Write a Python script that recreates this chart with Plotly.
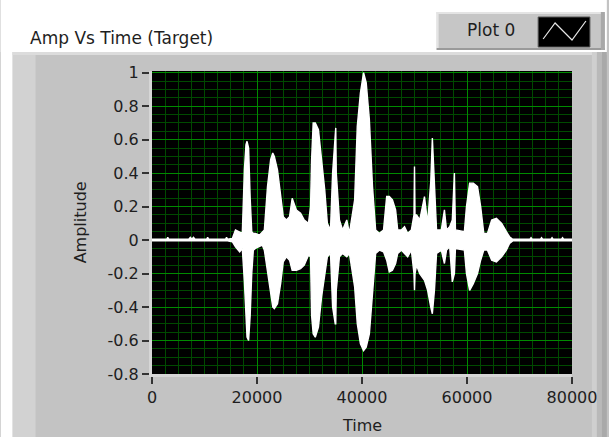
import plotly.graph_objects as go

# ---- data (envelope of the waveform) ----
time = [0, 2800, 3000, 3200, 7000, 7300, 7600, 7900, 8200, 10400, 10600, 10800,
        14000, 14200, 14400, 15300, 15900, 16700, 17200, 17600, 17900, 18100,
        18400, 18700, 19000, 19300, 19700, 20500, 21000, 21400, 22000, 22600,
        23000, 23300, 23900, 24500, 25000, 25600, 26200, 26700, 27500, 28300,
        29000, 29800, 30200, 30400, 30700, 31100, 31700, 32300, 32900, 33400,
        34000, 34400, 34900, 35000, 35100, 35700, 36300, 37100, 37600, 38600,
        39100, 39700, 40300, 40800, 41400, 42000, 42600, 43300, 44100, 44700,
        45200, 45800, 46400, 46800, 47500, 48100, 48700, 49400, 49900, 50000,
        50100, 50400, 51000, 51900, 52500, 53100, 53400, 53800, 54200, 55100,
        55700, 56100, 56700, 57200, 57500, 57600, 57800, 59500, 59900, 60500,
        61200, 62000, 62600, 63200, 63900, 64700, 65600, 66600, 67500, 68100,
        68700, 72000, 72200, 72400, 74000, 74200, 74400, 76000, 76200, 76400,
        78000, 78200, 78400, 80000]
upper = [0.005, 0.005, 0.016, 0.005, 0.005, 0.016, 0.005, 0.016, 0.005, 0.005, 0.016, 0.005,
         0.005, 0.016, 0.005, 0.01, 0.06, 0.05, 0.04, 0.42, 0.57, 0.59,
         0.55, 0.25, 0.05, 0.04, 0.04, 0.03, 0.05, 0.06, 0.32, 0.48,
         0.52, 0.50, 0.42, 0.28, 0.14, 0.12, 0.14, 0.25, 0.18, 0.16,
         0.12, 0.10, 0.20, 0.48, 0.70, 0.70, 0.66, 0.48, 0.30, 0.10,
         0.06, 0.40, 0.67, 0.67, 0.40, 0.12, 0.06, 0.12, 0.04, 0.24,
         0.68, 0.88, 1.00, 0.94, 0.72, 0.32, 0.06, 0.04, 0.06, 0.26,
         0.26, 0.24, 0.18, 0.06, 0.06, 0.08, 0.04, 0.06, 0.15, 0.44,
         0.15, 0.15, 0.12, 0.26, 0.10, 0.35, 0.61, 0.30, 0.06, 0.06,
         0.18, 0.06, 0.08, 0.12, 0.40, 0.40, 0.06, 0.05, 0.20, 0.34,
         0.34, 0.32, 0.20, 0.04, 0.04, 0.12, 0.13, 0.10, 0.05, 0.02,
         0.005, 0.005, 0.014, 0.005, 0.005, 0.014, 0.005, 0.005, 0.014, 0.005,
         0.005, 0.014, 0.005, 0.005]
lower = [-0.005, -0.005, -0.005, -0.005, -0.005, -0.005, -0.005, -0.005, -0.005, -0.005, -0.005, -0.005,
         -0.005, -0.005, -0.005, -0.01, -0.04, -0.07, -0.05, -0.25, -0.45, -0.58,
         -0.60, -0.45, -0.20, -0.06, -0.05, -0.04, -0.03, -0.06, -0.20, -0.34,
         -0.40, -0.41, -0.38, -0.26, -0.13, -0.10, -0.12, -0.18, -0.18, -0.17,
         -0.15, -0.09, -0.10, -0.45, -0.56, -0.58, -0.52, -0.34, -0.20, -0.10,
         -0.08, -0.40, -0.50, -0.50, -0.30, -0.10, -0.08, -0.10, -0.08, -0.28,
         -0.50, -0.62, -0.66, -0.64, -0.56, -0.30, -0.08, -0.06, -0.07, -0.12,
         -0.19, -0.18, -0.14, -0.08, -0.06, -0.08, -0.10, -0.06, -0.20, -0.30,
         -0.20, -0.15, -0.20, -0.24, -0.30, -0.40, -0.44, -0.30, -0.08, -0.06,
         -0.14, -0.06, -0.04, -0.25, -0.20, -0.20, -0.05, -0.06, -0.20, -0.30,
         -0.26, -0.20, -0.12, -0.06, -0.06, -0.12, -0.13, -0.10, -0.06, -0.02,
         -0.005, -0.005, -0.005, -0.005, -0.005, -0.005, -0.005, -0.005, -0.005, -0.005,
         -0.005, -0.005, -0.005, -0.005]

x_ticks = [0, 20000, 40000, 60000, 80000]
x_tick_labels = ["0", "20000", "40000", "60000", "80000"]
y_ticks = [-0.8, -0.6, -0.4, -0.2, 0, 0.2, 0.4, 0.6, 0.8, 1]
y_tick_labels = ["-0.8", "-0.6", "-0.4", "-0.2", "0", "0.2", "0.4", "0.6", "0.8", "1"]

FONT = "DejaVu Sans"
TXT = "#1e1e1e"
W, H = 609, 437
ML, MR, MT, MB = 152, 35, 71, 63
PW, PH = W - ML - MR, H - MT - MB


def px(v):
    return (v - ML) / PW


def py(v):
    return (H - MB - v) / PH


fig = go.Figure()
fig.add_trace(go.Scatter(x=time, y=upper, mode="lines",
                         line=dict(color="white", width=1.4), hoverinfo="skip",
                         showlegend=False))
fig.add_trace(go.Scatter(x=time, y=lower, mode="lines", fill="tonexty",
                         fillcolor="white", line=dict(color="white", width=1.4),
                         hoverinfo="skip", showlegend=False))

shapes = [
    # white top area and left strip
    dict(type="rect", xref="paper", yref="paper", x0=px(0), x1=px(W), y0=py(52), y1=py(0),
         fillcolor="#ffffff", line_width=0, layer="below"),
    dict(type="rect", xref="paper", yref="paper", x0=px(0), x1=px(12), y0=py(H), y1=py(0),
         fillcolor="#ffffff", line_width=0, layer="below"),
    # panel bevels
    dict(type="rect", xref="paper", yref="paper", x0=px(12), x1=px(35), y0=py(H), y1=py(52),
         fillcolor="#d2d2d2", line_width=0, layer="below"),
    dict(type="rect", xref="paper", yref="paper", x0=px(12), x1=px(W), y0=py(55), y1=py(52),
         fillcolor="#dcdcdc", line_width=0, layer="below"),
    dict(type="rect", xref="paper", yref="paper", x0=px(594), x1=px(599), y0=py(H), y1=py(52),
         fillcolor="#cfcfcf", line_width=0, layer="below"),
    dict(type="rect", xref="paper", yref="paper", x0=px(599), x1=px(604), y0=py(H), y1=py(52),
         fillcolor="#b9b9b9", line_width=0, layer="below"),
    dict(type="rect", xref="paper", yref="paper", x0=px(604), x1=px(W), y0=py(H), y1=py(52),
         fillcolor="#a9a9a9", line_width=0, layer="below"),
    # black plot area
    dict(type="rect", xref="x domain", yref="y domain", x0=0, x1=1, y0=0, y1=1,
         fillcolor="black", line_width=0, layer="below"),
    # legend box
    dict(type="rect", xref="paper", yref="paper", x0=px(438), x1=px(607), y0=py(50), y1=py(12),
         fillcolor="#c6c6c6", line_width=0, layer="below"),
    dict(type="line", xref="paper", yref="paper", x0=px(438), x1=px(607), y0=py(13), y1=py(13),
         line=dict(color="#e4e4e4", width=2), layer="below"),
    dict(type="line", xref="paper", yref="paper", x0=px(439), x1=px(439), y0=py(50), y1=py(12),
         line=dict(color="#e4e4e4", width=2), layer="below"),
    dict(type="line", xref="paper", yref="paper", x0=px(438), x1=px(607), y0=py(49), y1=py(49),
         line=dict(color="#9a9a9a", width=2), layer="below"),
    dict(type="line", xref="paper", yref="paper", x0=px(605), x1=px(605), y0=py(50), y1=py(12),
         line=dict(color="#a8a8a8", width=4), layer="below"),
    dict(type="rect", xref="paper", yref="paper", x0=px(540), x1=px(592), y0=py(47), y1=py(17),
         fillcolor="black", line=dict(color="#555555", width=1)),
    dict(type="path", xref="paper", yref="paper",
         path=f"M {px(545)} {py(39)} L {px(557)} {py(23)} L {px(574)} {py(40)} L {px(588)} {py(21)}",
         line=dict(color="#e8e8e8", width=1.2)),
]

annotations = [
    dict(text="Amp Vs Time (Target)", x=px(27), y=py(38), xref="paper", yref="paper",
         xanchor="left", yanchor="middle", showarrow=False,
         font=dict(family=FONT, size=17, color=TXT)),
    dict(text="Plot 0", x=px(493), y=py(30), xref="paper", yref="paper",
         xanchor="center", yanchor="middle", showarrow=False,
         font=dict(family=FONT, size=17, color=TXT)),
    dict(text="Amplitude", x=px(80), y=py(222), xref="paper", yref="paper",
         xanchor="center", yanchor="middle", showarrow=False, textangle=-90,
         font=dict(family=FONT, size=16, color=TXT)),
    dict(text="Time", x=px(363), y=py(425), xref="paper", yref="paper",
         xanchor="center", yanchor="middle", showarrow=False,
         font=dict(family=FONT, size=16, color=TXT)),
]

MAJOR = "#008a00"
MINOR = "#004a00"

fig.update_layout(
    width=W, height=H,
    margin=dict(l=ML, r=MR, t=MT, b=MB, pad=0),
    paper_bgcolor="#c3c3c3",
    plot_bgcolor="black",
    shapes=shapes,
    annotations=annotations,
    showlegend=False,
    xaxis=dict(range=[0, 80000], tickvals=x_ticks, ticktext=x_tick_labels,
               ticks="outside", ticklen=7, tickwidth=1.5, tickcolor="#333333",
               showline=True, linecolor="#d6d6d6", linewidth=3,
               showgrid=True, gridcolor=MAJOR, gridwidth=1.3,
               minor=dict(dtick=2500, tick0=0, showgrid=True, gridcolor=MINOR, gridwidth=1.2, ticks=""),
               zeroline=False, tickfont=dict(family=FONT, size=16, color=TXT)),
    yaxis=dict(range=[-0.8, 1.01], tickvals=y_ticks, ticktext=y_tick_labels,
               ticks="outside", ticklen=7, tickwidth=1.5, tickcolor="#333333",
               showline=True, linecolor="#d6d6d6", linewidth=3,
               showgrid=True, gridcolor=MAJOR, gridwidth=1.3,
               minor=dict(dtick=0.05, tick0=0, showgrid=True, gridcolor=MINOR, gridwidth=1.2, ticks=""),
               zeroline=False, ticklabelstandoff=0,
               tickfont=dict(family=FONT, size=16, color=TXT)),
)

fig.write_html("out.html", config={"displayModeBar": False},
               post_script="document.body.style.margin='0';document.body.style.overflow='hidden';")
